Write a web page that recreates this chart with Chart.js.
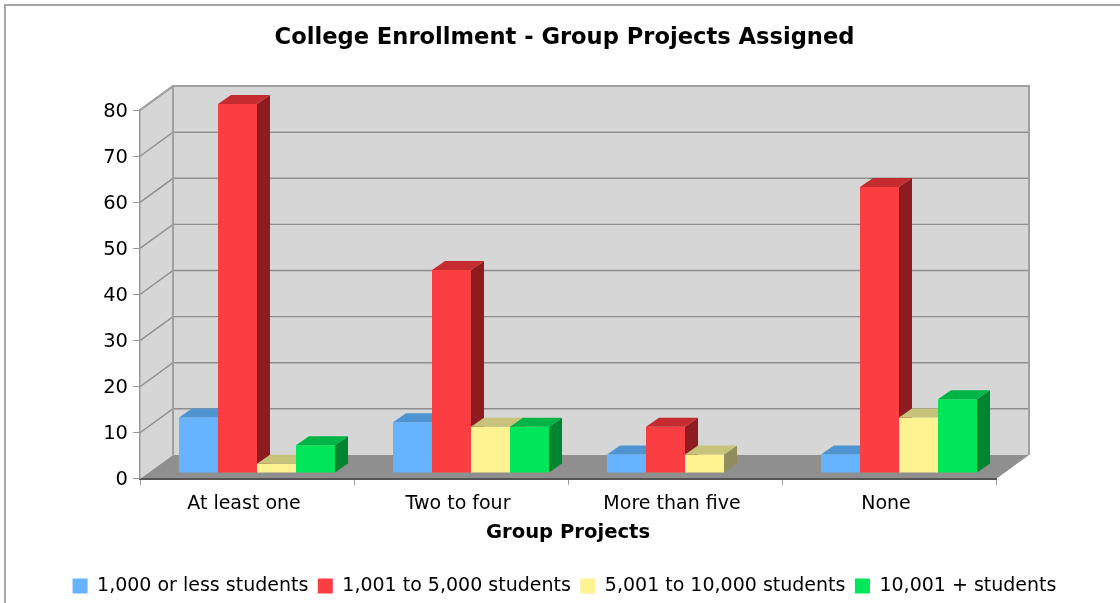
<!DOCTYPE html>
<html>
<head>
<meta charset="utf-8">
<title>College Enrollment - Group Projects Assigned</title>
<script src="https://cdn.jsdelivr.net/npm/chart.js@4"></script>
<style>
  html, body { margin: 0; padding: 0; background: #fff; overflow: hidden; }
  #frame { position: absolute; left: 4px; top: 4px; width: 1120px; height: 603px; border-top: 2px solid #a6a6a6; border-left: 2px solid #a6a6a6; }
  #wrap { position: absolute; left: 0; top: 0; width: 1120px; height: 603px; }
</style>
</head>
<body>
<div id="frame"></div>
<div id="wrap"><canvas id="enrollChart" width="1120" height="603"></canvas></div>
<script>
// Data
const categories = ["At least one", "Two to four", "More than five", "None"];
const seriesNames = ["1,000 or less students", "1,001 to 5,000 students", "5,001 to 10,000 students", "10,001 + students"];
const lessThan1000 = [12, 11, 4, 4];
const from1001To5000 = [80, 44, 10, 62];
const from5001To10000 = [2, 10, 4, 12];
const over10000 = [6, 10, null, 16];

// Colours
const frontColors = ["#66b3ff", "#fb3e42", "#fff291", "#00e65a"];
const topColors = ["#4e94d0", "#c42c2f", "#c8c37a", "#00b545"];
const sideColors = ["#3c74a6", "#8e1b20", "#908c5b", "#00852f"];
const wallColor = "#d6d6d6";
const floorColor = "#8f8f8f";
const wallLine = "#a0a0a0";
const gridLine = "#8e8e8e";

// Fake 3D depth
const wallDepth = { x: 33, y: 24 };
const barShift = { x: 10, y: 6 };
const barDepth = { x: 13, y: 9 };

function poly(ctx, pts, fill) {
  ctx.beginPath();
  pts.forEach((p, i) => i ? ctx.lineTo(p[0], p[1]) : ctx.moveTo(p[0], p[1]));
  ctx.closePath();
  ctx.fillStyle = fill;
  ctx.fill();
}

const box3d = {
  id: "box3d",
  // back wall, left wall, floor, grid lines; goes under the axes
  beforeDraw(chart) {
    const { ctx, chartArea: a, scales: { y } } = chart;
    const d = wallDepth;
    ctx.save();
    poly(ctx, [[a.left + d.x, a.top - d.y], [a.right + d.x, a.top - d.y], [a.right + d.x, a.bottom - d.y], [a.left + d.x, a.bottom - d.y]], wallColor);
    poly(ctx, [[a.left, a.top], [a.left + d.x, a.top - d.y], [a.left + d.x, a.bottom - d.y], [a.left, a.bottom]], wallColor);
    poly(ctx, [[a.left, a.bottom], [a.right, a.bottom], [a.right + d.x, a.bottom - d.y], [a.left + d.x, a.bottom - d.y]], floorColor);

    ctx.lineWidth = 1.4;
    ctx.strokeStyle = gridLine;
    y.ticks.forEach(t => {
      const py = y.getPixelForValue(t.value);
      if (t.value === 0) return;
      ctx.beginPath();
      ctx.moveTo(a.left, py);
      ctx.lineTo(a.left + d.x, py - d.y);
      ctx.lineTo(a.right + d.x, py - d.y);
      ctx.stroke();
    });
    ctx.lineWidth = 2;
    ctx.strokeStyle = wallLine;
    ctx.beginPath();
    ctx.moveTo(a.left, a.top);
    ctx.lineTo(a.left + d.x, a.top - d.y);
    ctx.lineTo(a.right + d.x, a.top - d.y);
    ctx.lineTo(a.right + d.x, a.bottom - d.y);
    ctx.moveTo(a.left + d.x, a.top - d.y);
    ctx.lineTo(a.left + d.x, a.bottom - d.y);
    ctx.stroke();
    ctx.restore();
  },
  // Chart.js paints datasets last-to-first; here each one has to cover the side of the one before
  beforeDatasetsDraw(chart) {
    const { ctx } = chart;
    chart.getSortedVisibleDatasetMetas().forEach(meta => {
      const i = meta.index;
      ctx.save();
      ctx.translate(barShift.x, -barShift.y);
      meta.controller.draw();
      meta.data.forEach((bar, j) => {
        if (allValues[i][j] === null) return;
        const p = bar.getProps(["x", "y", "base", "width"], true);
        const l = p.x - p.width / 2, r = p.x + p.width / 2;
        poly(ctx, [[r, p.y], [r + barDepth.x, p.y - barDepth.y], [r + barDepth.x, p.base - barDepth.y], [r, p.base]], sideColors[i]);
        poly(ctx, [[l, p.y], [r, p.y], [r + barDepth.x, p.y - barDepth.y], [l + barDepth.x, p.y - barDepth.y]], topColors[i]);
      });
      ctx.restore();
    });
    return false;
  }
};

const allValues = [lessThan1000, from1001To5000, from5001To10000, over10000];

new Chart(document.getElementById("enrollChart"), {
  type: "bar",
  plugins: [box3d],
  data: {
    labels: categories,
    datasets: seriesNames.map((name, i) => ({
      label: name,
      data: allValues[i],
      backgroundColor: frontColors[i],
      borderWidth: 0,
      barPercentage: 1,
      categoryPercentage: 0.729
    }))
  },
  options: {
    responsive: false,
    animation: false,
    layout: { padding: { left: 9, top: 0, right: 0, bottom: -2.4 } },
    plugins: {
      tooltip: { enabled: false },
      title: {
        display: true,
        text: "College Enrollment - Group Projects Assigned",
        color: "#000",
        font: { family: "DejaVu Sans", size: 22.6, weight: "bold" },
        padding: { top: 25, bottom: 58 }
      },
      legend: {
        position: "bottom",
        labels: {
          color: "#000",
          font: { family: "DejaVu Sans", size: 19 },
          boxWidth: 15,
          boxHeight: 15,
          padding: 9.5
        }
      }
    },
    scales: {
      x: {
        grid: { drawOnChartArea: false, drawTicks: true, tickLength: 6, color: "#999", offset: true },
        border: { display: true, color: "#555", width: 2 },
        ticks: { color: "#000", font: { family: "DejaVu Sans", size: 19 }, padding: 8, labelOffset: -3 },
        title: {
          display: true,
          text: "Group Projects",
          color: "#000",
          font: { family: "DejaVu Sans", size: 19.6, weight: "bold" },
          padding: { top: 4, bottom: 22.5 }
        },
        afterFit(s) { s.height = 88; }
      },
      y: {
        min: 0,
        max: 80,
        grid: { drawOnChartArea: false, drawTicks: true, tickLength: 7, color: "#999" },
        border: { display: true, color: "#999", width: 1.5 },
        ticks: { stepSize: 10, color: "#000", font: { family: "DejaVu Sans", size: 19.5 }, padding: 5, labelOffset: 1.5 },
        afterFit(s) { s.width = 131; }
      },
      // empty axis, only keeps the plot clear of the right edge while title and legend stay centred
      spacer: {
        position: "right",
        grid: { display: false },
        border: { display: false },
        ticks: { display: false },
        afterFit(s) { s.width = 124; }
      }
    }
  }
});
</script>
</body>
</html>
